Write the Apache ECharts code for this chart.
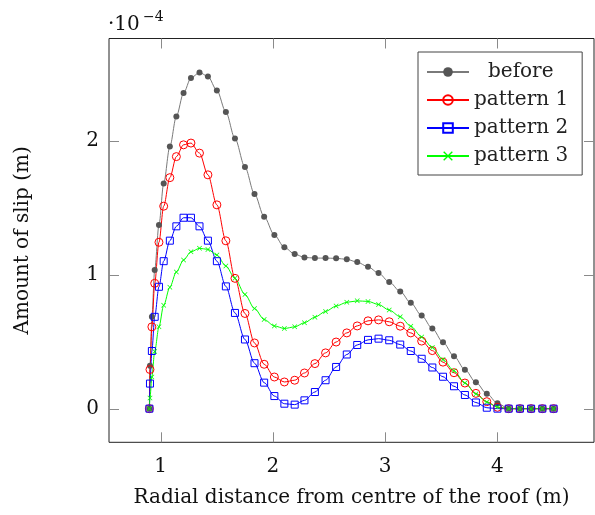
<!DOCTYPE html>
<html>
<head>
<meta charset="utf-8">
<script src="https://cdn.jsdelivr.net/npm/echarts@6/dist/echarts.min.js"></script>
<style>
  html, body { margin: 0; padding: 0; background: #fff; }
  #main { width: 595px; height: 515px; }
</style>
</head>
<body>
<div id="main"></div>
<script>
// radial distance (m), shared by all series
const radius = [0.9, 0.905, 0.922, 0.947, 0.985, 1.027, 1.082, 1.140, 1.204, 1.270,
  1.346, 1.421, 1.501, 1.581, 1.662, 1.751, 1.836, 1.922, 2.013, 2.102,
  2.194, 2.281, 2.374, 2.469, 2.563, 2.658, 2.751, 2.847, 2.941, 3.036,
  3.134, 3.228, 3.325, 3.420, 3.515, 3.613, 3.710, 3.808, 3.905, 4.0,
  4.1, 4.2, 4.3, 4.4, 4.5];

// amount of slip, in units of 1e-4 m
const before = [0, 0.32, 0.685, 1.035, 1.37, 1.68, 1.955, 2.18, 2.354, 2.466,
  2.508, 2.478, 2.374, 2.213, 2.015, 1.802, 1.601, 1.432, 1.295, 1.203,
  1.153, 1.128, 1.123, 1.123, 1.121, 1.114, 1.093, 1.058, 1.011, 0.945,
  0.874, 0.789, 0.694, 0.597, 0.495, 0.391, 0.291, 0.196, 0.112, 0.04,
  0, 0, 0, 0, 0];
const pattern1 = [0, 0.292, 0.61, 0.935, 1.241, 1.51, 1.723, 1.88, 1.968, 1.981,
  1.906, 1.744, 1.52, 1.252, 0.972, 0.71, 0.49, 0.331, 0.236, 0.199,
  0.212, 0.266, 0.336, 0.416, 0.497, 0.565, 0.617, 0.655, 0.662, 0.648,
  0.615, 0.565, 0.504, 0.433, 0.347, 0.268, 0.191, 0.114, 0.052, 0.01,
  0, 0, 0, 0, 0];
const pattern2 = [0, 0.187, 0.43, 0.685, 0.909, 1.10, 1.253, 1.36, 1.424, 1.424,
  1.36, 1.253, 1.10, 0.912, 0.714, 0.516, 0.339, 0.194, 0.094, 0.037,
  0.03, 0.062, 0.124, 0.212, 0.311, 0.404, 0.475, 0.513, 0.522, 0.51,
  0.478, 0.43, 0.372, 0.307, 0.238, 0.167, 0.102, 0.046, 0.007, 0,
  0, 0, 0, 0, 0];
const pattern3 = [0, 0.08, 0.236, 0.427, 0.61, 0.771, 0.906, 1.02, 1.108, 1.17,
  1.196, 1.188, 1.146, 1.064, 0.972, 0.852, 0.747, 0.665, 0.617, 0.598,
  0.61, 0.641, 0.682, 0.725, 0.765, 0.793, 0.804, 0.8, 0.777, 0.735,
  0.686, 0.615, 0.535, 0.456, 0.366, 0.282, 0.192, 0.11, 0.049, 0.012,
  0, 0, 0, 0, 0];

const xTicks = [1, 2, 3, 4];
const yTicks = [0, 1, 2];

const font = 'DejaVu Serif';
const fs = 20;
const crossPath = 'path://M0,1L1,0L5,4L9,0L10,1L6,5L10,9L9,10L5,6L1,10L0,9L4,5Z';

function pairs(ys) {
  return radius.map((x, i) => [x, ys[i]]);
}

function lineSeries(name, ys, color, symbol, size, fill) {
  return {
    name: name,
    type: 'line',
    data: pairs(ys),
    smooth: 0.3,
    smoothMonotone: 'x',
    symbol: symbol,
    symbolSize: size,
    showAllSymbol: true,
    lineStyle: { color: color, width: 1 },
    itemStyle: {
      color: fill,
      borderColor: color,
      borderWidth: fill === 'transparent' ? 1 : 0
    },
    emphasis: { disabled: true },
    z: 2
  };
}

const chart = echarts.init(document.getElementById('main'), null, { renderer: 'canvas' });

const gridBox = { left: 109, right: 1, top: 38.5, bottom: 72.7 };

const option = {
  backgroundColor: '#fff',
  animation: false,
  grid: Object.assign({ show: true, borderColor: '#222', borderWidth: 1, backgroundColor: 'transparent' }, gridBox),
  xAxis: {
    type: 'value', min: 0.54, max: 4.86,
    axisLine: { show: false, onZero: false },
    splitLine: { show: false },
    axisTick: { show: false },
    axisLabel: { customValues: xTicks, margin: 14, fontFamily: font, fontSize: fs, color: '#111' },
    name: 'Radial distance from centre of the roof (m)',
    nameLocation: 'middle', nameGap: 45,
    nameTextStyle: { fontFamily: font, fontSize: fs, color: '#111' }
  },
  yAxis: {
    type: 'value', min: -0.251, max: 2.761,
    axisLine: { show: false, onZero: false },
    splitLine: { show: false },
    axisTick: { show: false },
    axisLabel: { customValues: yTicks, margin: 10, fontFamily: font, fontSize: fs, color: '#111' },
    name: 'Amount of slip (m)',
    nameLocation: 'middle', nameGap: 76, nameRotate: 90,
    nameTextStyle: { fontFamily: font, fontSize: fs, color: '#111' }
  },
  legend: {
    orient: 'vertical',
    left: 418, top: 52,
    padding: [10, 14, 9, 8],
    itemWidth: 42, itemHeight: 12, itemGap: 8,
    backgroundColor: '#fff',
    borderColor: '#444', borderWidth: 1,
    textStyle: { fontFamily: font, fontSize: fs, lineHeight: 20, color: '#222' },
    data: [
      { name: 'before', textStyle: { padding: [0, 0, 0, 14] } },
      'pattern 1', 'pattern 2', 'pattern 3'
    ],
    z: 10
  },
  series: [
    lineSeries('before', before, '#7a7a7a', 'circle', 6, '#555'),
    lineSeries('pattern 1', pattern1, '#ff0000', 'circle', 8, 'transparent'),
    lineSeries('pattern 2', pattern2, '#0000ff', 'rect', 7, 'transparent'),
    lineSeries('pattern 3', pattern3, '#00ff00', crossPath, 5, '#00ff00')
  ]
};

chart.setOption(option);

// pgfplots-style ticks on all four sides, pointing inwards
const W = 595, H = 515, tickLen = 10;
const boxTop = gridBox.top, boxBottom = H - gridBox.bottom;
const boxLeft = gridBox.left, boxRight = W - gridBox.right;
const tickStyle = { stroke: '#8a8a8a', lineWidth: 1 };
const graphics = [
  { id: 'exp10', type: 'text', left: 108, top: 15, z: 20,
    style: { text: '·10', fontFamily: font, fontSize: fs, fill: '#111' } },
  { id: 'exp4', type: 'text', left: 143, top: 10, z: 20,
    style: { text: '−4', fontFamily: font, fontSize: 14, fill: '#111' } }
];
xTicks.forEach((v, i) => {
  const px = Math.round(chart.convertToPixel({ xAxisIndex: 0 }, v)) + 0.5;
  graphics.push({ id: 'xb' + i, type: 'line', z: 1, style: tickStyle,
    shape: { x1: px, y1: boxBottom, x2: px, y2: boxBottom - tickLen } });
  graphics.push({ id: 'xt' + i, type: 'line', z: 1, style: tickStyle,
    shape: { x1: px, y1: boxTop, x2: px, y2: boxTop + tickLen } });
});
yTicks.forEach((v, i) => {
  const py = Math.round(chart.convertToPixel({ yAxisIndex: 0 }, v)) + 0.5;
  graphics.push({ id: 'yl' + i, type: 'line', z: 1, style: tickStyle,
    shape: { x1: boxLeft, y1: py, x2: boxLeft + tickLen, y2: py } });
  graphics.push({ id: 'yr' + i, type: 'line', z: 1, style: tickStyle,
    shape: { x1: boxRight, y1: py, x2: boxRight - tickLen, y2: py } });
});
chart.setOption({ graphic: graphics });
</script>
</body>
</html>
